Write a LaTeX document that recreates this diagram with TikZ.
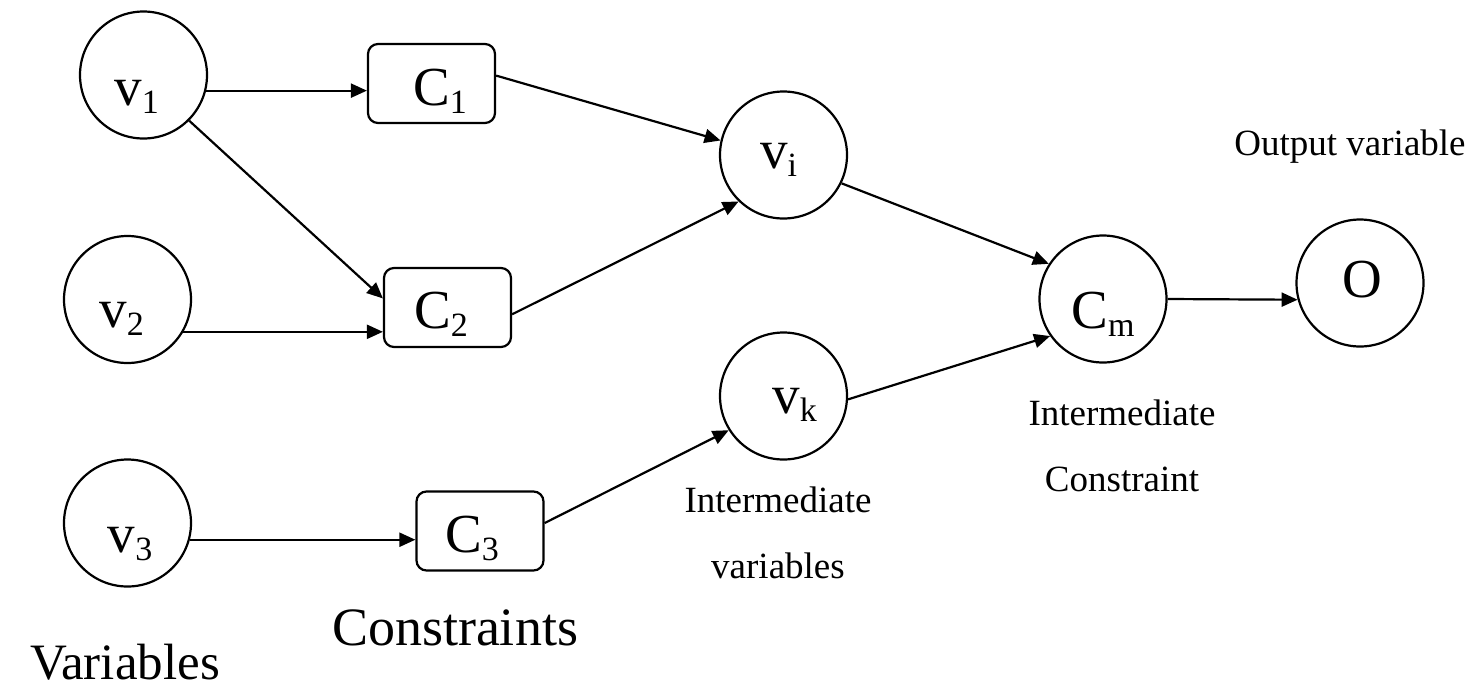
\documentclass[tikz,border=0pt]{standalone}
\usepackage{fontspec}
\setmainfont{Liberation Serif}
\usetikzlibrary{arrows.meta}

% lowered, smaller index after a symbol
\newcommand{\lowsub}[1]{\raisebox{-8pt}{\fontsize{34}{34}\selectfont #1}}
% place text with its baseline #2 below the node centre, shifted by #1/2 sideways
\newcommand{\placetext}[3]{\raisebox{-#2}[0pt][0pt]{\makebox[0pt]{\hspace{#1}#3}}}

\tikzset{
  var/.style={circle, draw, line width=2.2pt, minimum size=127pt, inner sep=0pt,
              font=\fontsize{55}{60}\selectfont},
  con/.style={rectangle, rounded corners=10pt, draw, line width=2.2pt,
              minimum width=127pt, minimum height=79pt, inner sep=0pt,
              font=\fontsize{55}{60}\selectfont},
  arr/.style={-{Triangle[length=16pt,width=14pt]}, line width=2.2pt},
  small/.style={inner sep=0pt, font=\fontsize{37}{66}\selectfont},
  big/.style={inner sep=0pt, anchor=base}
}

\begin{document}
\begin{tikzpicture}[x=1pt, y=-1pt]
  \useasboundingbox (0,0) rectangle (1474,689);

  % input variables
  \node[var] (v1) at (143.5,75)  {\placetext{-14pt}{30pt}{v\lowsub{1}}};
  \node[var] (v2) at (127.5,299.5) {\placetext{-12pt}{27.5pt}{v\lowsub{2}}};
  \node[var] (v3) at (127.5,523) {\placetext{5pt}{29pt}{v\lowsub{3}}};

  % constraints
  \node[con] (C1) at (431.5,83.5)  {\placetext{17pt}{21.5pt}{C\lowsub{1}}};
  \node[con] (C2) at (447.5,307.5) {\placetext{-13pt}{20.5pt}{C\lowsub{2}}};
  \node[con] (C3) at (480,531)     {\placetext{-16pt}{21pt}{C\lowsub{3}}};

  % intermediate variables, intermediate constraint, output
  \node[var] (vi) at (783.5,155) {\placetext{-10pt}{13pt}{v\lowsub{i}}};
  \node[var] (vk) at (783.5,396) {\placetext{22pt}{17pt}{v\lowsub{k}}};
  \node[var] (Cm) at (1103,299)  {\placetext{0pt}{29pt}{C\lowsub{m}}};
  \node[var] (O)  at (1360,283)  {\placetext{5pt}{14pt}{O}};

  % connectors
  \draw[arr] (v1.-14) -- (v1.-14 -| C1.west);
  \draw[arr] (v1.-45) -- (C2.172);
  \draw[arr] (v2.-30) -- (v2.-30 -| C2.west);
  \draw[arr] (v3.-15) -- (v3.-15 -| C3.west);
  \draw[arr] (C1.7) -- (vi.167);
  \draw[arr] (C2.-6) -- (vi.-134);
  \draw[arr] (C3.7) -- (vk.-148);
  \draw[arr] (vi.-26.7) -- (Cm.147);
  \draw[arr] (vk.-3) -- (Cm.-145.5);
  \draw[arr] (Cm.east) -- (O.-165.5);

  % captions
  \node[small, anchor=base] (outlab) at (1350,155) {Output variable};
  \node[small, anchor=north, align=center] (ivlab) at (778,487) {Intermediate\\variables};
  \node[small, anchor=north, align=center] (iclab) at (1122,400) {Intermediate\\Constraint};
  \node[big, font=\fontsize{54}{60}\selectfont] (conlab) at (455,645) {Constraints};
  \node[big, font=\fontsize{51}{60}\selectfont] (varlab) at (125,679) {Variables};
\end{tikzpicture}
\end{document}
